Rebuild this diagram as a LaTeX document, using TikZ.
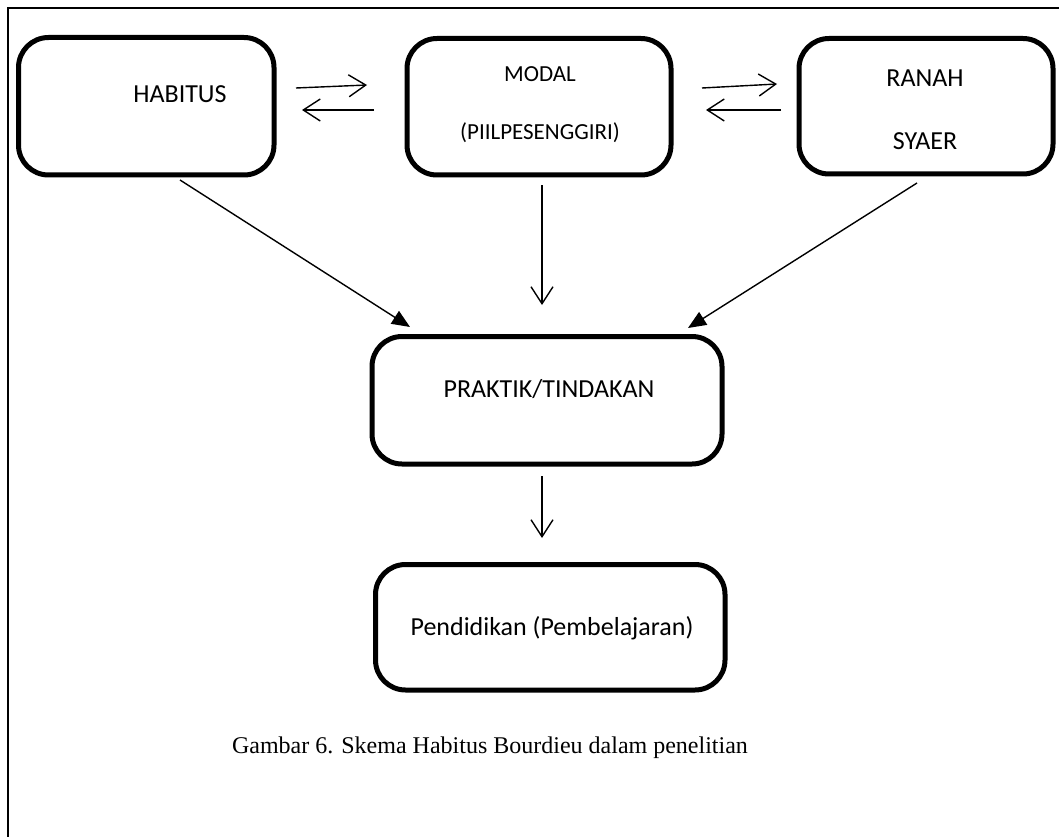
\documentclass[tikz,border=0pt]{standalone}
\usepackage{fontspec}
\setmainfont{Carlito}
\newfontfamily\capfont{Liberation Serif}
\usetikzlibrary{arrows.meta}
\tikzset{
  box/.style={draw, line width=5pt, rounded corners=30pt, inner sep=0pt},
  lbl/.style={inner sep=0pt, font=\fontsize{26}{30}\selectfont},
  small/.style={inner sep=0pt, font=\fontsize{23}{27}\selectfont},
  openarrow/.style={line width=1.4pt, -{Straight Barb[length=17pt,width=22pt,line width=1.4pt]}},
  fillarrow/.style={line width=1.4pt, -{Triangle[length=18pt,width=15pt]}},
}
\begin{document}
\begin{tikzpicture}[x=1pt,y=-1pt]
\useasboundingbox (0,0) rectangle (1059,837);
\begin{scope}
\clip (0,0) rectangle (1059,837);
% page frame
\draw[line width=1.3pt] (8,8) rectangle (1090,870);

% boxes
\draw[box] (18.5,37.5) rectangle (274,175) node[pos=0.5, inner sep=0pt] (habitus) {};
\draw[box] (407,38.5) rectangle (671,175) node[pos=0.5, inner sep=0pt] (modal) {};
\draw[box] (799,38.5) rectangle (1053,174) node[pos=0.5, inner sep=0pt] (ranah) {};
\draw[box] (372,336.5) rectangle (722,464) node[pos=0.5, inner sep=0pt] (praktik) {};
\draw[box] (375.5,564.5) rectangle (725,690) node[pos=0.5, inner sep=0pt] (pendidikan) {};
\end{scope}

% texts
\node[lbl] (tHabitus) at (180,94) {HABITUS};
\node[small] (tModal) at (540,74) {MODAL};
\node[small] (tPiil) at (540,133) {(PIILPESENGGIRI)};
\node[lbl] (tRanah) at (925,78) {RANAH};
\node[lbl] (tSyaer) at (925,141) {SYAER};
\node[lbl] (tPraktik) at (549,389) {PRAKTIK/TINDAKAN};
\node[lbl] (tPend) at (552,628) {Pendidikan (Pembelajaran)};
\node[inner sep=0pt, font=\capfont\fontsize{24}{28}\selectfont] (caption) at (490,748) {Gambar 6. Skema Habitus Bourdieu dalam penelitian};

% connector end points
\coordinate (hm1) at (296,88);  \coordinate (hm2) at (367,85);
\coordinate (mh1) at (374,110); \coordinate (mh2) at (302,110);
\coordinate (mr1) at (702,88);  \coordinate (mr2) at (777,84);
\coordinate (rm1) at (781,110); \coordinate (rm2) at (706,110);
\coordinate (hp1) at (180,180); \coordinate (hp2) at (410,327);
\coordinate (mp1) at (542,185); \coordinate (mp2) at (542,305);
\coordinate (rp1) at (917,183); \coordinate (rp2) at (688,328);
\coordinate (pp1) at (542,476); \coordinate (pp2) at (542,538);

\draw[openarrow] (hm1) -- (hm2);
\draw[openarrow] (mh1) -- (mh2);
\draw[openarrow] (mr1) -- (mr2);
\draw[openarrow] (rm1) -- (rm2);
\draw[fillarrow] (hp1) -- (hp2);
\draw[openarrow] (mp1) -- (mp2);
\draw[fillarrow] (rp1) -- (rp2);
\draw[openarrow] (pp1) -- (pp2);
\end{tikzpicture}
\end{document}
